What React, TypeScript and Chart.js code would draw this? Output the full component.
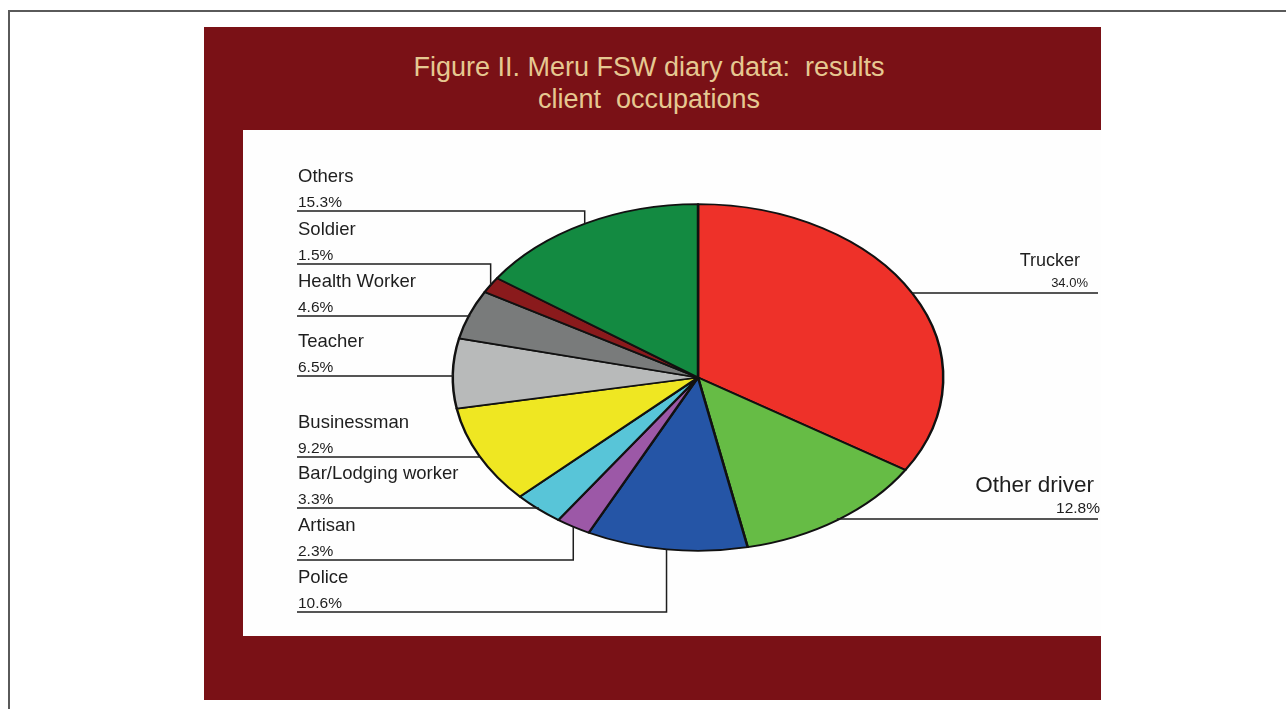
import React, { useEffect, useRef } from "react";
import { Chart, registerables } from "chart.js";

Chart.register(...registerables);

// ---- data ----
const categories = [
  "Trucker",
  "Other driver",
  "Police",
  "Artisan",
  "Bar/Lodging worker",
  "Businessman",
  "Teacher",
  "Health Worker",
  "Soldier",
  "Others",
];
const values = [34.0, 12.8, 10.6, 2.3, 3.3, 9.2, 6.5, 4.6, 1.5, 15.3];
const percentLabels = ["34.0%", "12.8%", "10.6%", "2.3%", "3.3%", "9.2%", "6.5%", "4.6%", "1.5%", "15.3%"];
const sliceColors = [
  "#ee3129",
  "#66bc45",
  "#2555a6",
  "#9c58a7",
  "#58c5d8",
  "#efe722",
  "#b8baba",
  "#797b7b",
  "#8a1a1c",
  "#138a41",
];

// ---- label layout (styles / positions, not data) ----
type Slot = { side: "L" | "R"; lineY: number; nameSize: number; pctSize: number };
const labelSlots: Slot[] = [
  { side: "R", lineY: 293, nameSize: 18, pctSize: 13 },
  { side: "R", lineY: 519, nameSize: 22.5, pctSize: 15.5 },
  { side: "L", lineY: 612, nameSize: 18.5, pctSize: 15.5 },
  { side: "L", lineY: 560, nameSize: 18.5, pctSize: 15.5 },
  { side: "L", lineY: 508, nameSize: 18.5, pctSize: 15.5 },
  { side: "L", lineY: 457, nameSize: 18.5, pctSize: 15.5 },
  { side: "L", lineY: 376, nameSize: 18.5, pctSize: 15.5 },
  { side: "L", lineY: 316, nameSize: 18.5, pctSize: 15.5 },
  { side: "L", lineY: 264, nameSize: 18.5, pctSize: 15.5 },
  { side: "L", lineY: 211, nameSize: 18.5, pctSize: 15.5 },
];
const ELLIPSE_K = 0.7067;
const FONT = '"Liberation Sans", Arial, sans-serif';

const ellipsePlugin = {
  id: "ellipse",
  beforeDatasetsDraw(chart: any) {
    const arc = chart.getDatasetMeta(0).data[0];
    if (!arc) return;
    const ctx = chart.ctx;
    ctx.save();
    ctx.translate(arc.x, arc.y);
    ctx.scale(1, ELLIPSE_K);
    ctx.translate(-arc.x, -arc.y);
  },
  afterDatasetsDraw(chart: any) {
    chart.ctx.restore();
  },
};

const labelPlugin = {
  id: "sideLabels",
  afterDraw(chart: any) {
    const ctx = chart.ctx;
    const meta = chart.getDatasetMeta(0);
    ctx.save();
    ctx.strokeStyle = "#1e1e1e";
    ctx.fillStyle = "#1e1e1e";
    ctx.lineWidth = 1.5;
    meta.data.forEach((arc: any, i: number) => {
      const p = arc.getProps(["x", "y", "startAngle", "endAngle", "outerRadius"], true);
      const mid = (p.startAngle + p.endAngle) / 2;
      const ax = p.x + p.outerRadius * Math.cos(mid);
      const ay = p.y + p.outerRadius * ELLIPSE_K * Math.sin(mid);
      const s = labelSlots[i];
      ctx.beginPath();
      if (s.side === "L") {
        ctx.moveTo(297, s.lineY);
        ctx.lineTo(ax, s.lineY);
        ctx.lineTo(ax, ay);
        ctx.stroke();
        ctx.textAlign = "left";
        ctx.textBaseline = "alphabetic";
        ctx.font = `${s.nameSize}px ${FONT}`;
        ctx.fillText(categories[i], 298, s.lineY - 29);
        ctx.font = `${s.pctSize}px ${FONT}`;
        ctx.fillText(percentLabels[i], 298, s.lineY - 4);
      } else {
        ctx.moveTo(ax, ay);
        ctx.lineTo(ax, s.lineY);
        ctx.lineTo(1098, s.lineY);
        ctx.stroke();
        ctx.textAlign = "right";
        ctx.textBaseline = "alphabetic";
        const big = s.nameSize > 20;
        ctx.font = `${s.nameSize}px ${FONT}`;
        ctx.fillText(categories[i], big ? 1094 : 1080, s.lineY - 27);
        ctx.font = `${s.pctSize}px ${FONT}`;
        ctx.fillText(percentLabels[i], big ? 1100 : 1088, s.lineY - 6);
      }
    });
    ctx.restore();
  },
};

export default function App() {
  const canvasRef = useRef<HTMLCanvasElement | null>(null);

  useEffect(() => {
    if (!canvasRef.current) return;
    const chart = new Chart(canvasRef.current, {
      type: "pie",
      data: {
        labels: categories,
        datasets: [
          {
            data: values,
            backgroundColor: sliceColors,
            borderColor: "#111111",
            borderWidth: 2.5,
            borderJoinStyle: "round",
          },
        ],
      },
      options: {
        animation: false,
        responsive: false,
        maintainAspectRatio: false,
        devicePixelRatio: 1,
        layout: {
          padding: { left: 451.5, right: 341.5, top: 131, bottom: 85 },
        },
        plugins: {
          legend: { display: false },
          tooltip: { enabled: false },
          title: { display: false },
        },
      },
      plugins: [ellipsePlugin, labelPlugin],
    } as any);
    return () => chart.destroy();
  }, []);

  return (
    <div style={{ position: "fixed", left: 0, top: 0, width: 1286, height: 709, background: "#ffffff", overflow: "hidden" }}>
      <div
        style={{
          position: "absolute",
          left: 8,
          top: 10,
          width: 1400,
          height: 800,
          borderTop: "2px solid #5a5a5a",
          borderLeft: "2px solid #5a5a5a",
        }}
      />
      <div style={{ position: "absolute", left: 204, top: 27, width: 897, height: 673, background: "#7a1116" }} />
      <div style={{ position: "absolute", left: 243, top: 130, width: 858, height: 506, background: "#fefefe" }} />
      <div
        style={{
          position: "absolute",
          left: 204,
          top: 51,
          width: 890,
          textAlign: "center",
          color: "#e6c891",
          fontFamily: FONT,
          fontSize: 27,
          lineHeight: "32px",
          whiteSpace: "pre",
        }}
      >
        {"Figure II. Meru FSW diary data:  results\nclient  occupations"}
      </div>
      <canvas ref={canvasRef} width={1286} height={709} style={{ position: "absolute", left: 0, top: 0 }} />
    </div>
  );
}
